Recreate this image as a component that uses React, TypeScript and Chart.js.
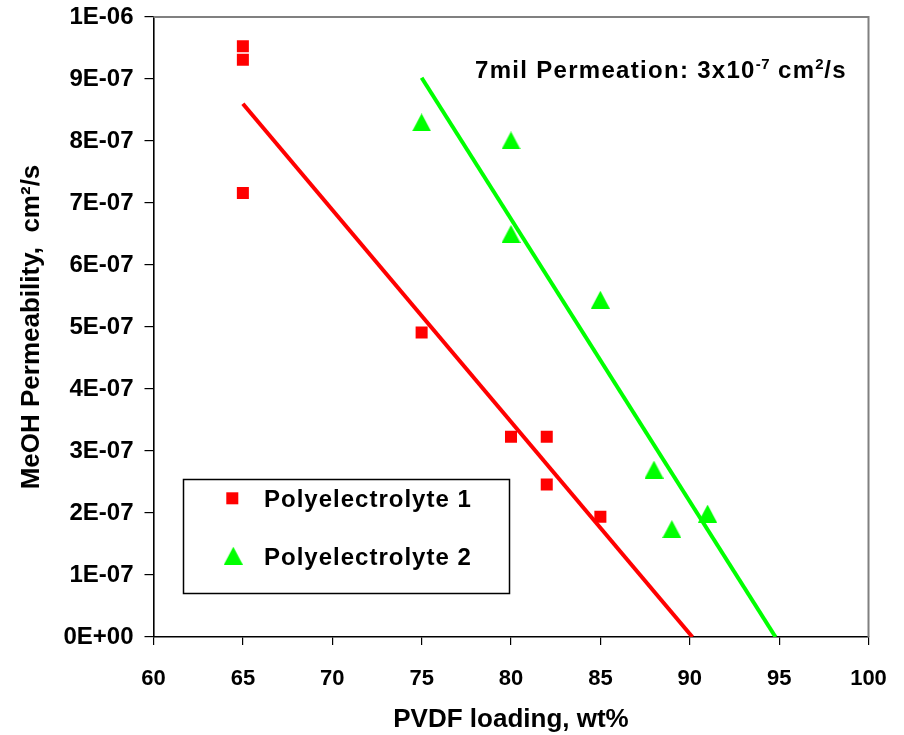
import React, { useEffect, useRef } from 'react';
import { Chart, registerables } from 'chart.js';

Chart.register(...registerables);

// ---- data ----
const SERIES_NAMES = ['Polyelectrolyte 1', 'Polyelectrolyte 2'];
const PVDF_1 = [65, 65, 65, 75, 80, 82, 82, 85];
const PERM_1 = [9.53e-7, 9.31e-7, 7.16e-7, 4.91e-7, 3.23e-7, 3.23e-7, 2.46e-7, 1.94e-7];
const PVDF_2 = [75, 80, 80, 85, 88, 89, 91];
const PERM_2 = [8.3e-7, 8.01e-7, 6.5e-7, 5.44e-7, 2.7e-7, 1.74e-7, 1.99e-7];
const TREND_1_X = [65, 90.15];
const TREND_1_Y = [8.6e-7, 0];
const TREND_2_X = [75, 94.8];
const TREND_2_Y = [9.02e-7, 0];
const X_MIN = 60;
const X_MAX = 100;
const X_STEP = 5;
const Y_MIN = 0;
const Y_MAX = 1e-6;
const Y_STEP = 1e-7;
const X_TITLE = 'PVDF loading, wt%';
const Y_TITLE = 'MeOH Permeability,  cm\u00B2/s';
// [text, isSuperscript]
const NOTE_PARTS: [string, boolean][] = [
  ['7mil Permeation: 3x10', false],
  ['-7', true],
  [' cm', false],
  ['2', true],
  ['/s', false],
];

const RED = '#ff0000';
const GREEN = '#00ff00';
const FONT = "'Liberation Sans', Arial, sans-serif";

function makeTriangle(color: string): HTMLCanvasElement {
  const c = document.createElement('canvas');
  c.width = 19;
  c.height = 18;
  const ctx = c.getContext('2d')!;
  ctx.fillStyle = color;
  ctx.beginPath();
  ctx.moveTo(9.5, 0);
  ctx.lineTo(19, 18);
  ctx.lineTo(0, 18);
  ctx.closePath();
  ctx.fill();
  return c;
}

function fmtExp(v: number): string {
  const [m, e] = Number(v).toExponential(0).split('e');
  const n = parseInt(e, 10);
  return `${m}E${n < 0 ? '-' : '+'}${String(Math.abs(n)).padStart(2, '0')}`;
}

export default function App() {
  const ref = useRef<HTMLCanvasElement>(null);

  useEffect(() => {
    const tri = makeTriangle(GREEN);

    const decor = {
      id: 'decor',
      afterDraw(chart: any) {
        const { ctx, chartArea } = chart;
        ctx.save();
        // top and right frame
        ctx.strokeStyle = '#808080';
        ctx.lineWidth = 2;
        ctx.beginPath();
        ctx.moveTo(chartArea.left, chartArea.top);
        ctx.lineTo(chartArea.right, chartArea.top);
        ctx.lineTo(chartArea.right, chartArea.bottom);
        ctx.stroke();

        // legend box
        const bx = 183.5, by = 479.5, bw = 326, bh = 114;
        ctx.fillStyle = '#ffffff';
        ctx.fillRect(bx, by, bw, bh);
        ctx.strokeStyle = '#000000';
        ctx.lineWidth = 1.5;
        ctx.strokeRect(bx, by, bw, bh);

        ctx.fillStyle = RED;
        ctx.fillRect(232.3 - 6, 498.3 - 6, 12, 12);
        ctx.drawImage(tri, 233.3 - 9.5, 555.7 - 9);

        ctx.fillStyle = '#000000';
        ctx.font = `bold 24px ${FONT}`;
        (ctx as any).letterSpacing = '1px';
        ctx.textBaseline = 'alphabetic';
        ctx.textAlign = 'left';
        ctx.fillText(SERIES_NAMES[0], 264, 507);
        ctx.fillText(SERIES_NAMES[1], 264, 565);

        // annotation
        let x = 475;
        const base = 78;
        for (const [t, sup] of NOTE_PARTS) {
          ctx.font = sup ? `bold 15px ${FONT}` : `bold 24px ${FONT}`;
          (ctx as any).letterSpacing = sup ? '0.5px' : '1.3px';
          ctx.fillText(t, x, sup ? base - 9 : base);
          x += ctx.measureText(t).width;
        }
        ctx.restore();
      },
    };

    const chart = new Chart(ref.current!, {
      type: 'scatter',
      data: {
        datasets: [
          {
            label: SERIES_NAMES[0],
            data: PVDF_1.map((x, i) => ({ x, y: PERM_1[i] })),
            pointStyle: 'rect',
            pointRadius: 8.5,
            pointBackgroundColor: RED,
            pointBorderWidth: 0,
            showLine: false,
          },
          {
            label: SERIES_NAMES[1],
            data: PVDF_2.map((x, i) => ({ x, y: PERM_2[i] })),
            pointStyle: tri as any,
            pointRadius: 10,
            pointBackgroundColor: GREEN,
            pointBorderWidth: 0,
            showLine: false,
          },
          {
            label: 'trend1',
            data: TREND_1_X.map((x, i) => ({ x, y: TREND_1_Y[i] })),
            showLine: true,
            borderColor: RED,
            borderWidth: 4,
            pointRadius: 0,
            type: 'line' as any,
          },
          {
            label: 'trend2',
            data: TREND_2_X.map((x, i) => ({ x, y: TREND_2_Y[i] })),
            showLine: true,
            borderColor: GREEN,
            borderWidth: 4,
            pointRadius: 0,
            type: 'line' as any,
          },
        ],
      },
      options: {
        responsive: false,
        animation: false,
        layout: { padding: { left: 0, top: 17, right: 35.5, bottom: 0 } },
        plugins: {
          legend: { display: false },
          tooltip: { enabled: false },
        },
        scales: {
          x: {
            type: 'linear',
            min: X_MIN,
            max: X_MAX,
            afterFit: (s: any) => {
              s.height = 98;
              s.paddingLeft = 0;
              s.paddingRight = 0;
            },
            ticks: {
              stepSize: X_STEP,
              color: '#000',
              font: { family: FONT, size: 22, weight: 'bold' },
              padding: 21,
            },
            grid: {
              drawOnChartArea: false,
              drawTicks: true,
              tickLength: 8,
              color: '#000',
              lineWidth: 1.2,
            },
            border: { color: '#000', width: 1.6 },
            title: {
              display: true,
              text: X_TITLE,
              color: '#000',
              font: { family: FONT, size: 26, weight: 'bold' },
              padding: { top: 0, bottom: 0 },
            },
          },
          y: {
            type: 'linear',
            min: Y_MIN,
            max: Y_MAX,
            afterFit: (s: any) => {
              s.width = 153.5;
              s.paddingTop = 0;
              s.paddingBottom = 0;
            },
            ticks: {
              stepSize: Y_STEP,
              color: '#000',
              font: { family: FONT, size: 24, weight: 'bold' },
              padding: 11,
              callback: (v: any) => fmtExp(Number(v)),
            },
            grid: {
              drawOnChartArea: false,
              drawTicks: true,
              tickLength: 9,
              color: '#000',
              lineWidth: 1.2,
            },
            border: { color: '#000', width: 1.6 },
            title: {
              display: true,
              text: Y_TITLE,
              color: '#000',
              font: { family: FONT, size: 26, weight: 'bold' },
              padding: { top: 16, bottom: 0 },
            },
          },
        },
      },
      plugins: [decor],
    });
    return () => chart.destroy();
  }, []);

  return (
    <div style={{ position: 'absolute', left: 0, top: 0, width: 904, height: 735, background: '#fff' }}>
      <canvas ref={ref} width={904} height={735} style={{ display: 'block' }} />
    </div>
  );
}
